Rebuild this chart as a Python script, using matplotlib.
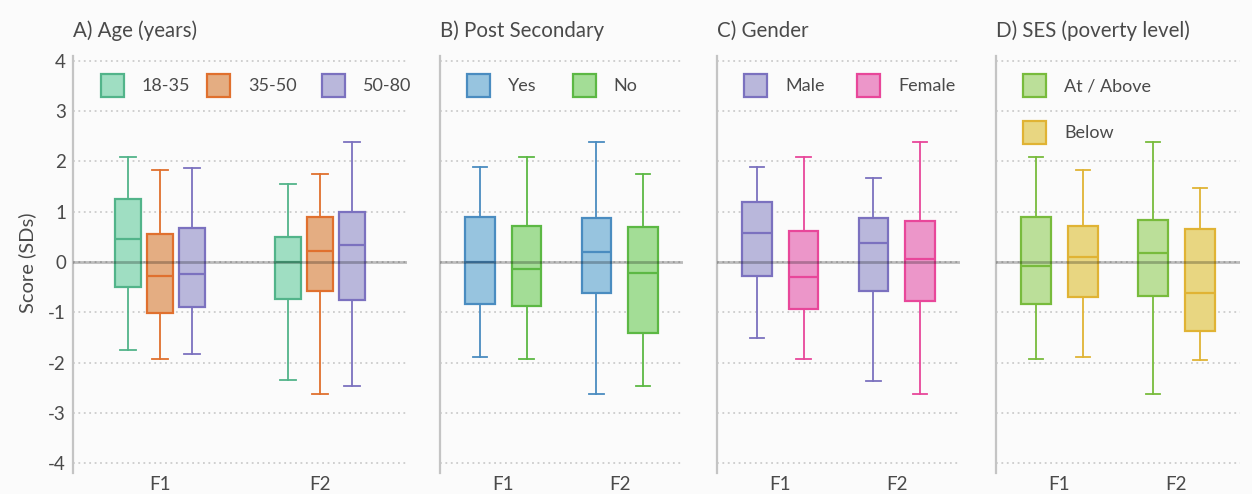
import matplotlib
matplotlib.use('Agg')
import matplotlib.pyplot as plt
from matplotlib.patches import Rectangle

plt.rcParams['font.family'] = ['Lato', 'DejaVu Sans']
plt.rcParams['axes.unicode_minus'] = False

FACTORS = ['F1', 'F2']

# five-number summaries per group: whisker low, q1, median, q3, whisker high
AGE_GROUPS = ['18-35', '35-50', '50-80']
AGE_STATS = {
  '18-35': [(-1.75, -0.49, 0.45, 1.25, 2.09), (-2.35, -0.74, 0.00, 0.50, 1.54)],
  '35-50': [(-1.92, -1.01, -0.27, 0.56, 1.83), (-2.63, -0.58, 0.21, 0.90, 1.75)],
  '50-80': [(-1.83, -0.89, -0.24, 0.67, 1.86), (-2.46, -0.76, 0.34, 0.99, 2.39)],
}
EDU_GROUPS = ['Yes', 'No']
EDU_STATS = {
  'Yes': [(-1.89, -0.84, 0.00, 0.89, 1.89), (-2.63, -0.62, 0.19, 0.87, 2.39)],
  'No': [(-1.92, -0.88, -0.13, 0.72, 2.09), (-2.46, -1.41, -0.21, 0.70, 1.74)],
}
GENDER_GROUPS = ['Male', 'Female']
GENDER_STATS = {
  'Male': [(-1.50, -0.28, 0.58, 1.19, 1.89), (-2.37, -0.57, 0.37, 0.87, 1.66)],
  'Female': [(-1.92, -0.93, -0.30, 0.61, 2.09), (-2.63, -0.77, 0.05, 0.82, 2.39)],
}
SES_GROUPS = ['At / Above', 'Below']
SES_STATS = {
  'At / Above': [(-1.92, -0.84, -0.07, 0.89, 2.09), (-2.63, -0.68, 0.17, 0.83, 2.39)],
  'Below': [(-1.89, -0.70, 0.10, 0.72, 1.83), (-1.94, -1.38, -0.61, 0.66, 1.47)],
}

# edge, face
COLORS = {
  '18-35': ('#52b48a', '#9fdec2'),
  '35-50': ('#e0702e', '#e4ad82'),
  '50-80': ('#7b71bf', '#b9b7db'),
  'Yes': ('#4a8cc0', '#97c4df'),
  'No': ('#5cb844', '#a3dd96'),
  'Male': ('#7b71bf', '#b9b7db'),
  'Female': ('#e8479a', '#ec96c9'),
  'At / Above': ('#78bb3c', '#bbdf99'),
  'Below': ('#e0b334', '#e8d681'),
}

TXT = '#4a4a4a'
BG = '#fbfbfb'
W, H = 1252, 494


def draw_panel(ax, groups, stats, offsets, width, capw):
  for g, off in zip(groups, offsets):
    edge, face = COLORS[g]
    bstats = [dict(whislo=s[0], q1=s[1], med=s[2], q3=s[3], whishi=s[4], fliers=[])
              for s in stats[g]]
    pos = [i + off for i in range(len(FACTORS))]
    ax.bxp(bstats, positions=pos, widths=width, capwidths=capw,
           patch_artist=True, showfliers=False, manage_ticks=False,
           boxprops=dict(facecolor=face, edgecolor=edge, linewidth=1.6),
           medianprops=dict(color=edge, linewidth=1.6),
           whiskerprops=dict(color=edge, linewidth=1.3),
           capprops=dict(color=edge, linewidth=1.3))
  ax.axhline(0, color='black', alpha=0.25, lw=2.0, zorder=5)
  ax.set_xlim(-0.543, 1.543)
  ax.set_ylim(-4.19, 4.09)
  ax.set_yticks(range(-4, 5))
  ax.set_xticks(range(len(FACTORS)))
  ax.set_xticklabels(FACTORS)
  ax.yaxis.grid(True, linestyle=(0, (1, 2)), color='#cccccc', lw=1.3)
  ax.set_axisbelow(True)
  for s in ('top', 'right', 'bottom'):
    ax.spines[s].set_visible(False)
  ax.spines['left'].set_color('#c4c4c4')
  ax.spines['left'].set_linewidth(1.6)
  ax.tick_params(length=0, labelsize=13.5, labelcolor=TXT)
  ax.tick_params(axis='x', pad=2)
  ax.tick_params(axis='y', pad=5)
  ax.set_facecolor(BG)


def draw_key(ax, groups, xs, ys, axw, axh):
  # square swatches + labels, placed in pixels from the top-left corner
  sq = 23
  for g, x, y in zip(groups, xs, ys):
    edge, face = COLORS[g]
    ax.add_patch(Rectangle((x / axw, 1 - (y + sq / 2) / axh), sq / axw, sq / axh,
                           transform=ax.transAxes, facecolor=face,
                           edgecolor=edge, lw=1.6, clip_on=False, zorder=6))
    ax.text((x + 41) / axw, 1 - y / axh, g, transform=ax.transAxes,
            ha='left', va='center', fontsize=13, color=TXT, zorder=6)


fig = plt.figure(figsize=(W / 100, H / 100), dpi=100, facecolor=BG)
top, bottom = 56, 473
panels = [
  (73, 334, 'A) Age (years)', AGE_GROUPS, AGE_STATS, (-0.2, 0, 0.2), 0.167, 0.104,
   (27.7, 134.3, 248.7), (30, 30, 30)),
  (440, 243, 'B) Post Secondary', EDU_GROUPS, EDU_STATS, (-0.2, 0.2), 0.25, 0.126,
   (26.7, 132.7), (30, 30)),
  (717, 243, 'C) Gender', GENDER_GROUPS, GENDER_STATS, (-0.2, 0.2), 0.25, 0.126,
   (27, 140.3), (30, 30)),
  (996, 244, 'D) SES (poverty level)', SES_GROUPS, SES_STATS, (-0.2, 0.2), 0.25, 0.126,
   (27, 27), (30, 77)),
]
axh = bottom - top
for i, (x0, axw, title, groups, stats, offs, bw, capw, kx, ky) in enumerate(panels):
  ax = fig.add_axes([x0 / W, 1 - bottom / H, axw / W, axh / H])
  draw_panel(ax, groups, stats, offs, bw, capw)
  draw_key(ax, groups, kx, ky, axw, axh)
  ax.text(0, 1 + 25 / axh, title, transform=ax.transAxes, ha='left',
          va='center', fontsize=14.8, color=TXT)
  if i > 0:
    ax.tick_params(axis='y', labelleft=False)

fig.text(27 / W, 1 - 263 / H, 'Score (SDs)', rotation=90, ha='center',
         va='center', fontsize=14.5, color=TXT)

fig.savefig('out.png', dpi=100, facecolor=BG)
